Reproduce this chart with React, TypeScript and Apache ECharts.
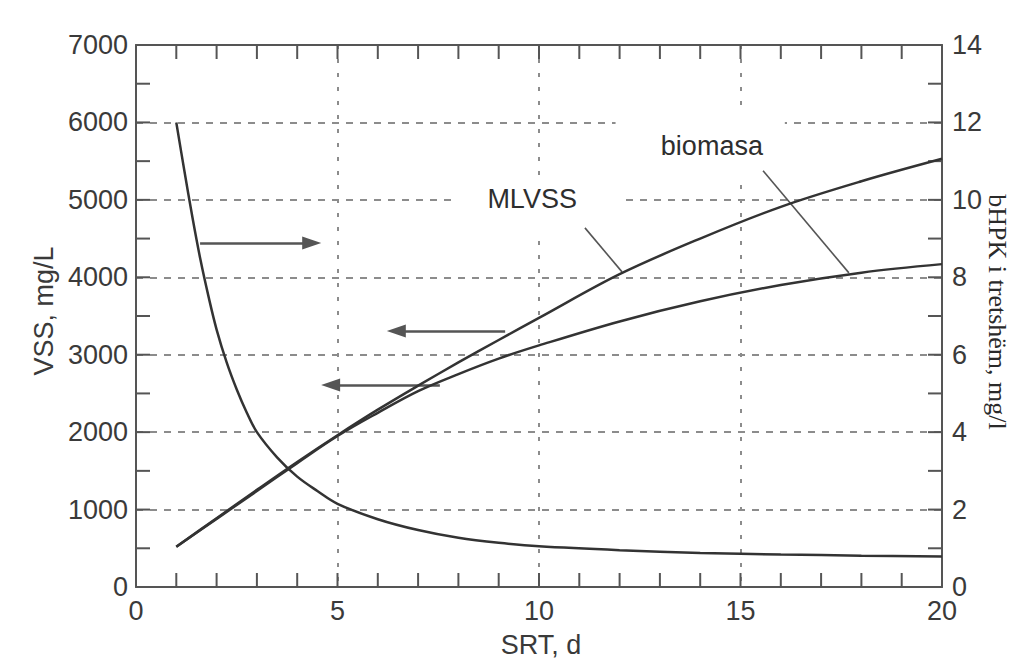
import { useEffect, useRef } from "react";
import * as echarts from "echarts";

// SRT (d) sample points for the two VSS curves (left axis, mg/L)
const srt = [1, 2, 3, 4, 5, 6, 7, 8, 9, 10, 12, 14, 16, 18, 20];
const mlvss = [520, 888, 1255, 1615, 1960, 2290, 2600, 2900, 3190, 3475, 4040, 4500, 4910, 5240, 5530];
const biomasa = [520, 880, 1240, 1600, 1950, 2250, 2530, 2750, 2950, 3120, 3430, 3690, 3900, 4060, 4170];

// soluble bBOD curve (right axis, mg/l)
const srtB = [1, 1.2, 1.4, 1.6, 1.8, 2, 2.25, 2.5, 2.75, 3, 3.5, 4, 4.5, 5, 6, 7, 8, 9, 10, 12, 14, 16, 18, 20];
const bhpk = [12, 10.75, 9.55, 8.45, 7.5, 6.65, 5.8, 5.1, 4.5, 4.0, 3.35, 2.85, 2.48, 2.15, 1.75, 1.47, 1.27, 1.14, 1.05, 0.95, 0.88, 0.84, 0.81, 0.79];

// axis ranges and names
const xRange = [0, 20, 5];
const yLeftRange = [0, 7000, 1000];
const yRightRange = [0, 14, 2];
const xName = "SRT, d";
const yLeftName = "VSS, mg/L";
const yRightName = "bHPK i tretshëm, mg/l";

// tick positions (values on each axis)
const xTicks = [0, 1, 2, 3, 4, 5, 6, 7, 8, 9, 10, 11, 12, 13, 14, 15, 16, 17, 18, 19, 20];
const yLeftTicks = [0, 500, 1000, 1500, 2000, 2500, 3000, 3500, 4000, 4500, 5000, 5500, 6000, 6500, 7000];
const yRightTicks = [0, 1, 2, 3, 4, 5, 6, 7, 8, 9, 10, 11, 12, 13, 14];

// annotations in data coordinates (SRT, VSS)
const arrows = [
  [[1.59, 4444], [4.36, 4444]],
  [[9.16, 3307], [6.46, 3307]],
  [[7.54, 2610], [4.83, 2610]],
];
const leaders = [
  [[11.14, 4638], [12.06, 4070]],
  [[15.56, 5375], [17.69, 4057]],
];
const curveLabels = [
  { text: "MLVSS", at: [9.83, 5013] },
  { text: "biomasa", at: [14.29, 5700] },
];
const masks = [
  [[7.92, 4535], [12.06, 5284]],
  [[11.9, 5297], [16.1, 6189]],
];

const SANS = "'Liberation Sans', Arial, Helvetica, sans-serif";
const SERIF = "'Liberation Serif', 'Times New Roman', serif";
const AX = "#555555";
const GRID = "#8c8c8c";
const TXT = "#3a3a3a";
const CURVE = "#333333";

const TICK = 14;

export default function App() {
  const ref = useRef<HTMLDivElement>(null);

  useEffect(() => {
    if (!ref.current) return;
    const chart = echarts.init(ref.current, null, { renderer: "svg" });

    const line = { color: AX, width: 2 };

    // inward ticks drawn as small rectangle symbols of scatter series
    const tickSeries = (
      yAxisIndex: number,
      data: number[][],
      size: number[],
      offset: number[]
    ) => ({
      type: "scatter",
      xAxisIndex: 0,
      yAxisIndex,
      data,
      symbol: "rect",
      symbolSize: size,
      symbolOffset: offset,
      clip: false,
      silent: true,
      z: 4,
      itemStyle: { color: AX, opacity: 1 },
      emphasis: { disabled: true },
      tooltip: { show: false },
    });

    const option: any = {
      animation: false,
      backgroundColor: "#ffffff",
      grid: { left: 136, right: 82, top: 45, bottom: 76, outerBoundsMode: "none" },
      xAxis: [
        {
          type: "value",
          position: "bottom",
          min: xRange[0],
          max: xRange[1],
          interval: xRange[2],
          axisLine: { show: true, onZero: false, lineStyle: line },
          axisTick: { show: false },
          axisLabel: { show: true, color: TXT, fontSize: 27, fontFamily: SANS, margin: 10 },
          splitLine: { show: true, lineStyle: { color: GRID, width: 2, type: [4, 10] } },
        },
        {
          type: "value",
          position: "top",
          min: xRange[0],
          max: xRange[1],
          interval: xRange[2],
          axisLine: { show: true, onZero: false, lineStyle: line },
          axisTick: { show: false },
          axisLabel: { show: false },
          splitLine: { show: false },
        },
      ],
      yAxis: [
        {
          type: "value",
          position: "left",
          min: yLeftRange[0],
          max: yLeftRange[1],
          interval: yLeftRange[2],
          axisLine: { show: true, onZero: false, lineStyle: line },
          axisTick: { show: false },
          axisLabel: {
            show: true,
            color: TXT,
            fontSize: 27,
            fontFamily: SANS,
            margin: 8,
            formatter: (v: number) => String(v),
          },
          splitLine: { show: true, lineStyle: { color: GRID, width: 2, type: [7, 7] } },
        },
        {
          type: "value",
          position: "right",
          min: yRightRange[0],
          max: yRightRange[1],
          interval: yRightRange[2],
          axisLine: { show: true, onZero: false, lineStyle: line },
          axisTick: { show: false },
          axisLabel: { show: true, color: TXT, fontSize: 27, fontFamily: SANS, margin: 10 },
          splitLine: { show: false },
        },
      ],
      series: [
        {
          name: "MLVSS",
          type: "line",
          xAxisIndex: 0,
          yAxisIndex: 0,
          data: srt.map((x, i) => [x, mlvss[i]]),
          smooth: 0.35,
          showSymbol: false,
          symbol: "none",
          z: 5,
          lineStyle: { color: CURVE, width: 2.5 },
          markLine: {
            silent: true,
            animation: false,
            symbol: ["none", "triangle"],
            symbolSize: [13, 19],
            label: { show: false },
            lineStyle: { color: "#555", width: 2.5, type: "solid" },
            itemStyle: { color: "#333" },
            data: arrows.map(([a, b]) => [{ coord: a }, { coord: b }]),
          },
        },
        {
          name: "biomasa",
          type: "line",
          xAxisIndex: 0,
          yAxisIndex: 0,
          data: srt.map((x, i) => [x, biomasa[i]]),
          smooth: 0.35,
          showSymbol: false,
          symbol: "none",
          z: 5,
          lineStyle: { color: CURVE, width: 2.5 },
          markLine: {
            silent: true,
            animation: false,
            symbol: ["none", "none"],
            label: { show: false },
            lineStyle: { color: "#555", width: 1.6, type: "solid" },
            data: leaders.map(([a, b]) => [{ coord: a }, { coord: b }]),
          },
        },
        {
          name: "bHPK",
          type: "line",
          xAxisIndex: 0,
          yAxisIndex: 1,
          data: srtB.map((x, i) => [x, bhpk[i]]),
          smooth: 0.35,
          showSymbol: false,
          symbol: "none",
          z: 5,
          lineStyle: { color: CURVE, width: 2.5 },
        },
        // bottom ticks (pointing up)
        tickSeries(0, xTicks.map((v) => [v, yLeftRange[0]]), [2, TICK], [0, -TICK / 2]),
        // top ticks (pointing down)
        tickSeries(0, xTicks.map((v) => [v, yLeftRange[1]]), [2, TICK], [0, TICK / 2]),
        // left ticks (pointing right)
        tickSeries(0, yLeftTicks.map((v) => [xRange[0], v]), [TICK, 2], [TICK / 2, 0]),
        // right ticks (pointing left)
        tickSeries(1, yRightTicks.map((v) => [xRange[1], v]), [TICK, 2], [-TICK / 2, 0]),
      ],
    };

    chart.setOption(option);

    const toPx = (p: number[]) =>
      chart.convertToPixel({ seriesIndex: 0 }, p) as unknown as number[];

    const graphics: any[] = [];

    masks.forEach(([a, b]) => {
      const p1 = toPx(a);
      const p2 = toPx(b);
      graphics.push({
        type: "rect",
        z: 1,
        silent: true,
        shape: {
          x: Math.min(p1[0], p2[0]),
          y: Math.min(p1[1], p2[1]),
          width: Math.abs(p2[0] - p1[0]),
          height: Math.abs(p2[1] - p1[1]),
        },
        style: { fill: "#ffffff" },
      });
    });
    curveLabels.forEach((l) => {
      const p = toPx(l.at);
      graphics.push({
        type: "text",
        z: 10,
        x: p[0],
        y: p[1],
        style: {
          text: l.text,
          fill: "#2e2e2e",
          font: `27px ${SANS}`,
          align: "center",
          verticalAlign: "middle",
        },
      });
    });
    graphics.push(
      {
        type: "text",
        z: 10,
        x: 541,
        y: 645,
        style: { text: xName, fill: TXT, font: `27px ${SANS}`, align: "center", verticalAlign: "middle" },
      },
      {
        type: "text",
        z: 10,
        x: 44,
        y: 311,
        rotation: Math.PI / 2,
        style: { text: yLeftName, fill: TXT, font: `27px ${SANS}`, align: "center", verticalAlign: "middle" },
      },
      {
        type: "text",
        z: 10,
        x: 997,
        y: 312,
        rotation: -Math.PI / 2,
        style: { text: yRightName, fill: "#2a2a2a", font: `26px ${SERIF}`, align: "center", verticalAlign: "middle" },
      }
    );

    chart.setOption({ graphic: { elements: graphics } });

    return () => chart.dispose();
  }, []);

  return (
    <div
      ref={ref}
      style={{ position: "absolute", left: 0, top: 0, width: 1024, height: 663, background: "#fff" }}
    />
  );
}
